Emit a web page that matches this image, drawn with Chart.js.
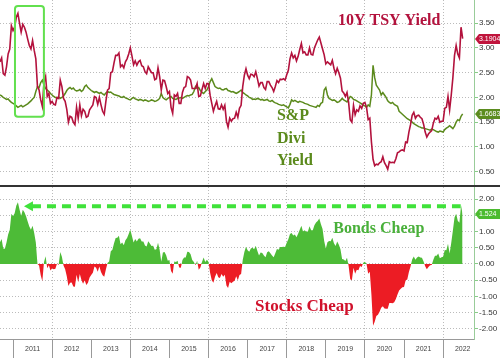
<!DOCTYPE html>
<html>
<head>
<meta charset="utf-8">
<script src="https://cdn.jsdelivr.net/npm/chart.js@4.4.0/dist/chart.umd.min.js"></script>
<style>
body { margin: 0; background: #fff; }
#wrap { width: 500px; height: 358px; overflow: hidden; }
canvas { display: block; }
#sep { height: 2px; background: #333; }
</style>
</head>
<body>
<div id="wrap">
  <canvas id="top" width="500" height="185"></canvas>
  <div id="sep"></div>
  <canvas id="bottom" width="500" height="171"></canvas>
</div>
<script>
// twice-monthly readings (1st and 16th), starting 1 Sep 2010
const firstPeriod = 2010 + 8 / 12;
const periodsPerYear = 24;

const yearLabels = ['2011', '2012', '2013', '2014', '2015', '2016', '2017', '2018', '2019', '2020', '2021', '2022'];
const gridYears = [2012, 2014, 2016, 2018, 2020, 2022];
const topTicks = [0.5, 1, 1.5, 2, 2.5, 3, 3.5];
const bottomTicks = [-2, -1.5, -1, -0.5, 0, 0.5, 1, 1.5, 2];

// 10Y treasury yield
const tsyYield = [
  2.72, 2.80, 2.48, 2.45, 2.62, 2.88, 2.98, 3.45,
  3.35, 3.42, 3.62, 3.70, 3.50, 3.32, 3.48, 3.42, 3.32, 3.18, 3.05, 2.98, 3.15, 2.95, 2.78, 2.22, 2.15, 1.95, 1.82, 2.30, 2.42, 2.02, 2.08, 1.88,
  1.92, 1.86, 1.85, 2.00, 1.98, 2.35, 2.22, 1.98, 1.92, 1.76, 1.50, 1.62, 1.60, 1.50, 1.45, 1.80, 1.58, 1.85, 1.63, 1.76, 1.72, 1.60, 1.62, 1.75,
  1.80, 1.85, 2.02, 2.00, 1.86, 2.00, 1.85, 1.72, 1.66, 1.92, 2.15, 2.18, 2.50, 2.52, 2.70, 2.85, 2.85, 2.90, 2.62, 2.66, 2.60, 2.72, 2.78, 2.88,
  3.00, 2.84, 2.66, 2.74, 2.65, 2.72, 2.75, 2.64, 2.62, 2.52, 2.48, 2.62, 2.56, 2.50, 2.50, 2.36, 2.38, 2.60, 2.42, 2.15, 2.35, 2.34, 2.22, 2.08,
  2.12, 1.80, 1.68, 2.05, 2.02, 2.08, 1.88, 1.88, 2.10, 2.20, 2.22, 2.42, 2.40, 2.35, 2.18, 2.18, 2.18, 2.28, 2.02, 2.03, 2.16, 2.28, 2.18, 2.28,
  2.28, 2.04, 1.88, 1.72, 1.83, 1.92, 1.77, 1.76, 1.85, 1.76, 1.84, 1.52, 1.40, 1.58, 1.52, 1.57, 1.58, 1.70, 1.60, 1.78, 1.84, 2.22, 2.45, 2.58,
  2.45, 2.38, 2.47, 2.46, 2.42, 2.52, 2.38, 2.23, 2.30, 2.30, 2.20, 2.16, 2.32, 2.32, 2.25, 2.20, 2.12, 2.22, 2.34, 2.30, 2.37, 2.36, 2.38, 2.35,
  2.46, 2.55, 2.78, 2.90, 2.80, 2.85, 2.74, 2.83, 2.97, 3.09, 2.90, 2.92, 2.86, 2.86, 3.00, 2.87, 2.86, 3.00, 3.08, 3.16, 3.22, 3.10, 2.98, 2.86,
  2.68, 2.72, 2.69, 2.66, 2.75, 2.59, 2.48, 2.59, 2.50, 2.39, 2.13, 2.09, 2.02, 2.10, 1.90, 1.55, 1.50, 1.84, 1.65, 1.75, 1.72, 1.83, 1.78, 1.88,
  1.90, 1.80, 1.55, 1.58, 1.10, 0.75, 0.62, 0.65, 0.64, 0.68, 0.70, 0.80, 0.68, 0.62, 0.55, 0.70, 0.68, 0.69, 0.68, 0.76, 0.88, 0.90, 0.93, 0.94,
  0.92, 1.10, 1.09, 1.30, 1.45, 1.64, 1.70, 1.58, 1.63, 1.64, 1.60, 1.57, 1.46, 1.30, 1.20, 1.26, 1.30, 1.33, 1.48, 1.58, 1.56, 1.62, 1.50, 1.52,
  1.52, 1.78, 1.80, 2.02, 1.75, 2.05, 2.40, 2.85, 3.05, 2.88, 2.80, 3.42, 3.1904
];

// S&P 500 dividend yield
const divYield = [
  2.05, 2.03, 2.00, 1.98, 1.96, 1.97, 1.93, 1.90,
  1.88, 1.86, 1.83, 1.80, 1.82, 1.84, 1.81, 1.83, 1.85, 1.87, 1.90, 1.93, 1.97, 2.00, 2.12, 2.22, 2.20, 2.30, 2.35, 2.25, 2.18, 2.15, 2.12, 2.08,
  2.05, 2.02, 2.00, 1.99, 2.01, 1.98, 2.00, 2.03, 2.08, 2.14, 2.18, 2.20, 2.17, 2.19, 2.15, 2.13, 2.14, 2.16, 2.12, 2.15, 2.22, 2.25, 2.20, 2.17,
  2.14, 2.12, 2.10, 2.12, 2.10, 2.08, 2.10, 2.07, 2.05, 2.09, 2.12, 2.10, 2.11, 2.08, 2.06, 2.05, 2.04, 2.03, 2.01, 2.00, 2.02, 1.99, 1.98, 1.96,
  1.95, 1.98, 2.00, 1.97, 1.96, 1.94, 1.96, 1.95, 1.93, 1.95, 1.94, 1.92, 1.93, 1.95, 1.94, 1.92, 1.93, 1.95, 1.98, 2.08, 2.00, 1.97, 1.95, 1.98,
  2.00, 2.02, 1.98, 1.97, 1.96, 1.98, 1.99, 2.00, 1.98, 2.00, 2.02, 2.04, 2.03, 2.05, 2.06, 2.12, 2.22, 2.18, 2.20, 2.14, 2.10, 2.08, 2.12, 2.15,
  2.22, 2.32, 2.38, 2.30, 2.22, 2.20, 2.18, 2.19, 2.16, 2.15, 2.17, 2.18, 2.14, 2.13, 2.11, 2.12, 2.10, 2.08, 2.10, 2.12, 2.15, 2.10, 2.08, 2.05,
  2.03, 2.00, 1.99, 1.96, 1.97, 1.96, 1.98, 1.97, 1.95, 1.96, 1.94, 1.95, 1.96, 1.93, 1.92, 1.94, 1.91, 1.89, 1.88, 1.86, 1.85, 1.84, 1.85, 1.83,
  1.81, 1.79, 1.86, 1.95, 1.92, 1.94, 1.92, 1.90, 1.92, 1.91, 1.90, 1.88, 1.87, 1.86, 1.84, 1.83, 1.82, 1.81, 1.80, 1.84, 1.82, 1.88, 1.90, 2.15,
  2.20, 2.05, 1.98, 1.96, 1.94, 1.95, 1.93, 1.90, 1.91, 1.94, 1.98, 1.95, 1.93, 1.91, 1.96, 2.02, 2.00, 1.96, 1.95, 1.93, 1.91, 1.89, 1.87, 1.84,
  1.83, 1.80, 1.85, 1.82, 2.05, 2.65, 2.40, 2.25, 2.20, 2.15, 2.05, 2.10, 2.05, 2.00, 1.93, 1.90, 1.88, 1.90, 1.86, 1.84, 1.82, 1.72, 1.69, 1.66,
  1.63, 1.60, 1.57, 1.55, 1.53, 1.50, 1.47, 1.45, 1.43, 1.41, 1.40, 1.38, 1.38, 1.37, 1.36, 1.35, 1.34, 1.36, 1.35, 1.33, 1.31, 1.30, 1.32, 1.31,
  1.30, 1.35, 1.38, 1.40, 1.43, 1.40, 1.37, 1.42, 1.50, 1.55, 1.53, 1.62, 1.6683
];

// 10Y yield minus S&P dividend yield
const yieldGap = [
  0.67, 0.77, 0.48, 0.47, 0.66, 0.91, 1.05, 1.55,
  1.47, 1.56, 1.79, 1.90, 1.68, 1.48, 1.67, 1.59, 1.47, 1.31, 1.15, 1.05, 1.18, 0.95, 0.66, 0.00, -0.05, -0.35, -0.53, 0.05, 0.24, -0.13, -0.04, -0.20,
  -0.13, -0.16, -0.15, 0.01, -0.03, 0.37, 0.22, -0.05, -0.16, -0.38, -0.68, -0.58, -0.57, -0.69, -0.70, -0.33, -0.56, -0.31, -0.49, -0.61, -0.50, -0.65, -0.58, -0.42,
  -0.34, -0.27, -0.08, -0.12, -0.24, -0.08, -0.25, -0.35, -0.39, -0.17, 0.03, 0.08, 0.39, 0.44, 0.64, 0.80, 0.81, 0.87, 0.61, 0.66, 0.58, 0.73, 0.80, 0.92,
  1.05, 0.86, 0.66, 0.77, 0.69, 0.78, 0.79, 0.69, 0.69, 0.57, 0.54, 0.70, 0.63, 0.55, 0.56, 0.44, 0.45, 0.65, 0.44, 0.07, 0.35, 0.37, 0.27, 0.10,
  0.12, -0.22, -0.30, 0.08, 0.06, 0.10, -0.11, -0.12, 0.12, 0.20, 0.20, 0.38, 0.37, 0.30, 0.12, 0.06, -0.04, 0.10, -0.18, -0.11, 0.06, 0.20, 0.06, 0.13,
  0.06, -0.28, -0.50, -0.58, -0.39, -0.28, -0.41, -0.43, -0.31, -0.39, -0.33, -0.66, -0.74, -0.55, -0.59, -0.55, -0.52, -0.38, -0.50, -0.34, -0.31, 0.12, 0.37, 0.53,
  0.42, 0.38, 0.48, 0.50, 0.45, 0.56, 0.40, 0.26, 0.35, 0.34, 0.26, 0.21, 0.36, 0.39, 0.33, 0.26, 0.21, 0.33, 0.46, 0.44, 0.52, 0.52, 0.53, 0.52,
  0.65, 0.76, 0.92, 0.95, 0.88, 0.91, 0.82, 0.93, 1.05, 1.18, 1.00, 1.04, 0.99, 1.00, 1.16, 1.04, 1.04, 1.19, 1.28, 1.32, 1.40, 1.22, 1.08, 0.71,
  0.48, 0.67, 0.71, 0.70, 0.81, 0.64, 0.55, 0.69, 0.59, 0.45, 0.15, 0.14, 0.09, 0.19, -0.06, -0.47, -0.50, -0.12, -0.30, -0.18, -0.19, -0.06, -0.09, 0.04,
  0.07, 0.00, -0.30, -0.24, -0.95, -1.90, -1.78, -1.60, -1.56, -1.47, -1.35, -1.30, -1.37, -1.38, -1.38, -1.20, -1.20, -1.21, -1.18, -1.08, -0.94, -0.82, -0.76, -0.72,
  -0.71, -0.50, -0.48, -0.25, -0.08, 0.14, 0.23, 0.13, 0.20, 0.23, 0.20, 0.19, 0.08, -0.07, -0.16, -0.09, -0.04, -0.03, 0.13, 0.25, 0.25, 0.32, 0.18, 0.21,
  0.22, 0.43, 0.42, 0.62, 0.32, 0.65, 1.03, 1.43, 1.55, 1.33, 1.27, 1.80, 1.524
];

const RED = '#b3123d';
const OLIVE = '#5b8a1c';
const xMin = 2010.667, xMax = 2022.79;

Chart.defaults.font.family = '"Liberation Sans", Arial, sans-serif';

function points(values) {
  return values.map((v, i) => ({ x: firstPeriod + i / periodsPerYear, y: v }));
}

function fixRightAxis(scale) {
  scale.width = 26;
  scale.paddingTop = 0;
  scale.paddingBottom = 0;
}

function lastValueBox(chart, index, color) {
  const meta = chart.getDatasetMeta(index);
  const values = chart.data.datasets[index].data;
  const y = Math.round(meta.data[meta.data.length - 1].y);
  const x0 = chart.chartArea.right;
  const ctx = chart.ctx;
  ctx.save();
  ctx.fillStyle = color;
  ctx.beginPath();
  ctx.moveTo(x0 + 1, y);
  ctx.lineTo(x0 + 5, y - 5);
  ctx.lineTo(chart.width, y - 5);
  ctx.lineTo(chart.width, y + 5);
  ctx.lineTo(x0 + 5, y + 5);
  ctx.closePath();
  ctx.fill();
  ctx.fillStyle = '#fff';
  ctx.font = '7px "Liberation Sans"';
  ctx.textBaseline = 'middle';
  ctx.fillText(String(values[values.length - 1].y), x0 + 5, y + 0.5);
  ctx.restore();
}

function note(chart, text, xv, yv, font, color) {
  const { ctx, scales } = chart;
  ctx.save();
  ctx.font = font;
  ctx.fillStyle = color;
  ctx.textBaseline = 'alphabetic';
  ctx.fillText(text, scales.x.getPixelForValue(xv), scales.y.getPixelForValue(yv));
  ctx.restore();
}

const rightAxis = (ticks, min, max) => ({
  position: 'right',
  min: min,
  max: max,
  afterBuildTicks: s => { s.ticks = ticks.map(v => ({ value: v })); },
  afterFit: fixRightAxis,
  grid: { color: '#bbb', tickColor: '#8c8', tickLength: 4, tickBorderDash: [] },
  border: { display: true, color: '#9c9', dash: [1, 2] },
  ticks: { color: '#333', font: { size: 8 }, padding: 1, callback: v => v.toFixed(2) }
});

const topNotes = {
  id: 'topNotes',
  afterDatasetsDraw(chart) {
    const { ctx, scales: { x, y } } = chart;
    const bx = x.getPixelForValue(2011.05), by = y.getPixelForValue(3.85);
    const bw = x.getPixelForValue(2011.79) - bx, bh = y.getPixelForValue(1.61) - by;
    ctx.save();
    ctx.strokeStyle = '#62e04e';
    ctx.lineWidth = 2;
    ctx.beginPath();
    if (ctx.roundRect) ctx.roundRect(bx, by, bw, bh, 3); else ctx.rect(bx, by, bw, bh);
    ctx.stroke();
    ctx.restore();
    note(chart, '10Y TSY Yield', 2019.31, 3.47, 'bold 16px "Liberation Serif"', RED);
    note(chart, 'S&P', 2017.75, 1.545, 'bold 16px "Liberation Serif"', OLIVE);
    note(chart, 'Divi', 2017.75, 1.08, 'bold 16px "Liberation Serif"', OLIVE);
    note(chart, 'Yield', 2017.75, 0.636, 'bold 16px "Liberation Serif"', OLIVE);
  },
  afterDraw(chart) {
    lastValueBox(chart, 0, '#c0143c');
    lastValueBox(chart, 1, '#5b8c1f');
  }
};

new Chart(document.getElementById('top'), {
  type: 'line',
  data: {
    datasets: [
      { data: points(tsyYield), borderColor: RED, borderWidth: 1.6, pointRadius: 0, tension: 0 },
      { data: points(divYield), borderColor: OLIVE, borderWidth: 1.5, pointRadius: 0, tension: 0 }
    ]
  },
  options: {
    responsive: false,
    animation: false,
    devicePixelRatio: 1,
    layout: { padding: 0 },
    plugins: { legend: { display: false }, tooltip: { enabled: false } },
    scales: {
      x: {
        type: 'linear',
        min: xMin,
        max: xMax,
        afterBuildTicks: s => { s.ticks = gridYears.map(v => ({ value: v })); },
        afterFit: s => { s.height = 0; s.paddingLeft = 0; s.paddingRight = 0; },
        grid: { color: '#bbb', drawTicks: false },
        border: { display: false, dash: [1, 2] },
        ticks: { display: false }
      },
      y: rightAxis(topTicks, 0.23, 3.97)
    }
  },
  plugins: [topNotes]
});

const bottomNotes = {
  id: 'bottomNotes',
  afterDatasetsDraw(chart) {
    const { ctx, scales: { x, y } } = chart;
    const ly = y.getPixelForValue(1.78);
    const tip = x.getPixelForValue(2011.28);
    ctx.save();
    ctx.strokeStyle = '#3fe23a';
    ctx.fillStyle = '#3fe23a';
    ctx.lineWidth = 4;
    ctx.setLineDash([9, 6]);
    ctx.beginPath();
    ctx.moveTo(tip + 8, ly);
    ctx.lineTo(x.getPixelForValue(2022.45), ly);
    ctx.stroke();
    ctx.setLineDash([]);
    ctx.beginPath();
    ctx.moveTo(tip, ly);
    ctx.lineTo(tip + 9, ly - 5);
    ctx.lineTo(tip + 9, ly + 5);
    ctx.closePath();
    ctx.fill();
    ctx.restore();
    note(chart, 'Bonds Cheap', 2019.19, 0.95, 'bold 16px "Liberation Serif"', '#49b03a');
    note(chart, 'Stocks Cheap', 2017.19, -1.45, 'bold 17px "Liberation Serif"', '#d0112b');
  },
  afterDraw(chart) {
    lastValueBox(chart, 0, '#4cbb30');
  }
};

new Chart(document.getElementById('bottom'), {
  type: 'line',
  data: {
    datasets: [{
      data: points(yieldGap),
      borderWidth: 0,
      borderColor: 'rgba(0,0,0,0)',
      pointRadius: 0,
      tension: 0,
      fill: { target: 'origin', above: '#4dbb37', below: '#ec1c24' }
    }]
  },
  options: {
    responsive: false,
    animation: false,
    devicePixelRatio: 1,
    layout: { padding: 0 },
    plugins: { legend: { display: false }, tooltip: { enabled: false } },
    scales: {
      x: {
        type: 'linear',
        min: xMin,
        max: xMax,
        afterBuildTicks: s => { s.ticks = yearLabels.map(v => ({ value: +v + 0.5 })); },
        afterFit: s => { s.height = 19; s.paddingLeft = 0; s.paddingRight = 0; },
        grid: {
          offset: true,
          color: c => (c.index % 2 === 1 ? '#bbb' : 'rgba(0,0,0,0)'),
          tickColor: '#999',
          tickLength: 19,
          tickBorderDash: []
        },
        border: { display: true, color: '#999', dash: [1, 2] },
        ticks: {
          autoSkip: false,
          maxRotation: 0,
          color: '#444',
          font: { size: 7 },
          padding: -13,
          callback: v => String(Math.floor(v))
        }
      },
      y: rightAxis(bottomTicks, -2.31, 2.37)
    }
  },
  plugins: [bottomNotes]
});
</script>
</body>
</html>
